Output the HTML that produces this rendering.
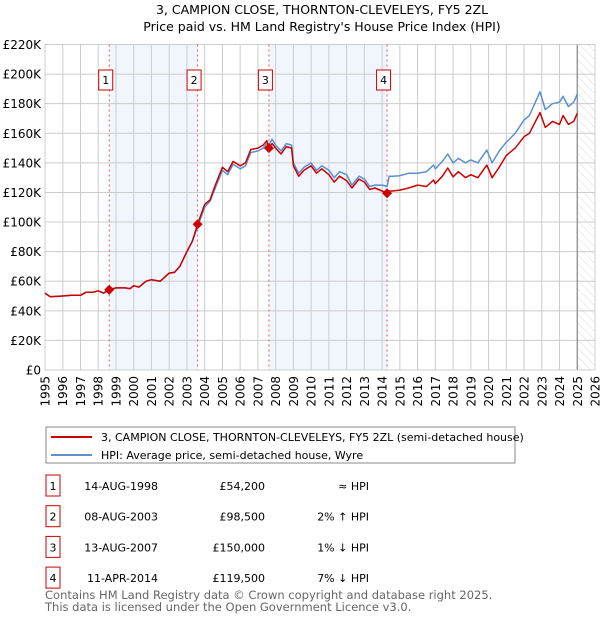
<!DOCTYPE html>
<html><head><meta charset="utf-8"><style>
body{margin:0;background:#fff;font-family:"DejaVu Sans","Liberation Sans",sans-serif;}
svg text{font-family:"DejaVu Sans","Liberation Sans",sans-serif;}
</style></head><body>
<svg id="c" width="600" height="620" xmlns="http://www.w3.org/2000/svg">
<defs><pattern id="hatch" width="6" height="6" patternUnits="userSpaceOnUse" patternTransform="rotate(-45)"><line x1="0" y1="0" x2="0" y2="6" stroke="#ccc" stroke-width="0.7"/></pattern></defs>
<text x="322" y="14" text-anchor="middle" font-size="12.5">3, CAMPION CLOSE, THORNTON-CLEVELEYS, FY5 2ZL</text>
<text x="322" y="31" text-anchor="middle" font-size="12.5">Price paid vs. HM Land Registry's House Price Index (HPI)</text>
<g id="plot"></g>
<rect x="46" y="427" width="469" height="36" fill="#fff" stroke="#888"/>
<line x1="51" y1="437" x2="92" y2="437" stroke="#cc0000" stroke-width="2"/>
<text x="101" y="441" font-size="11">3, CAMPION CLOSE, THORNTON-CLEVELEYS, FY5 2ZL (semi-detached house)</text>
<line x1="51" y1="455" x2="92" y2="455" stroke="#5b8fd0" stroke-width="2"/>
<text x="101" y="459" font-size="11">HPI: Average price, semi-detached house, Wyre</text>
<g id="table" font-size="11"></g>
<text x="45" y="599" font-size="11.5" fill="#666">Contains HM Land Registry data © Crown copyright and database right 2025.</text>
<text x="45" y="611" font-size="11.5" fill="#666">This data is licensed under the Open Government Licence v3.0.</text>
</svg>
<script>
const dates=[1995.0,1995.3,1996,1996.5,1997,1997.3,1997.7,1998,1998.3,1998.62,1999,1999.5,1999.8,2000,2000.3,2000.7,2001,2001.5,2002,2002.3,2002.6,2003,2003.3,2003.6,2004,2004.3,2004.6,2005,2005.3,2005.6,2006,2006.3,2006.6,2007,2007.3,2007.5,2007.62,2007.8,2008,2008.3,2008.6,2008.9,2009,2009.3,2009.6,2010,2010.3,2010.6,2011,2011.3,2011.6,2012,2012.3,2012.7,2013,2013.3,2013.6,2014,2014.28,2014.4,2014.6,2015,2015.5,2016,2016.5,2016.9,2017,2017.4,2017.7,2018,2018.3,2018.7,2019,2019.4,2019.9,2020.2,2020.6,2021,2021.5,2022,2022.3,2022.9,2023.2,2023.6,2024,2024.2,2024.5,2024.8,2025];
const priceVals=[52,49.5,50,50.5,50.5,52.5,52.5,53.5,52,54.2,55.5,55.5,55,57,56,60,61,60,65.5,66,70,80,87,98.5,112,115,125,137,134,141,138,140,149,150,152,155,150,153,150,146,151,150,138,131,135,138,133,136,132,127,131,128,123,129,127,122,123,121,119.5,121,121,121.6,123,125,124,128.4,126,131,136.5,130.6,134,130,132,130,138.5,130,137,145,150,157.6,160,174,164,168,166,172,166,168,173.6];
const hpiVals=[52,49.5,50,50.5,50.5,52.5,52.5,53.5,52,54,55.5,55.5,55,57,56,60,61,60,65.5,66,70,80,87,97,110,114,123,135,132,139,136,138,147,148,150,153,152,156,152,148,153,152,140,133,137,140,135,138,135,130,134,132,125,131,129,124,125,125,124,131,131,131.3,133,133,134,138.5,136,141,146,140,143,140,142,140,148.6,140,148,154,160,169,172,188,176,180,181,185,178,181,186.5];
const saleDates=[1998.62,2003.6,2007.62,2014.28];
const salePrices=[54.2,98.5,150,119.5];
const saleLabels=["1","2","3","4"];
const saleDateText=["14-AUG-1998","08-AUG-2003","13-AUG-2007","11-APR-2014"];
const salePriceText=["£54,200","£98,500","£150,000","£119,500"];
const saleHpiText=["≈ HPI","2% ↑ HPI","1% ↓ HPI","7% ↓ HPI"];
const yTicks=[0,20,40,60,80,100,120,140,160,180,200,220];
const yTickLabels=["£0","£20K","£40K","£60K","£80K","£100K","£120K","£140K","£160K","£180K","£200K","£220K"];
const xTicks=[1995,1996,1997,1998,1999,2000,2001,2002,2003,2004,2005,2006,2007,2008,2009,2010,2011,2012,2013,2014,2015,2016,2017,2018,2019,2020,2021,2022,2023,2024,2025,2026];

const L=45,R=595,T=44.5,B=370;
const X=y=>L+(y-1995)/(2026-1995)*(R-L);
const Y=v=>B-v/220*(B-T);
const NS="http://www.w3.org/2000/svg";
const g=document.getElementById('plot');
function mk(tag,attrs,parent){const e=document.createElementNS(NS,tag);for(const k in attrs)e.setAttribute(k,attrs[k]);(parent||g).appendChild(e);return e;}

for(let i=0;i<saleDates.length;i+=2){
  const r=mk('rect',{x:X(saleDates[i]),y:T,width:X(saleDates[i+1])-X(saleDates[i]),height:B-T,fill:'#eef2fc',opacity:0.8});
  
  
}
const hr=mk('rect',{x:X(2025.0),y:T,width:R-X(2025.0),height:B-T,fill:'url(#hatch)'});


yTicks.forEach((v,i)=>{
  const l=mk('line',{x1:L,x2:R,y1:Y(v),y2:Y(v),stroke:'#ccc','stroke-width':1});
  
  
  const t=mk('text',{x:L-4,y:Y(v)+4.5,'text-anchor':'end','font-size':12});
  t.textContent=yTickLabels[i];
  
  
});
xTicks.forEach(v=>{
  const l=mk('line',{x1:X(v),x2:X(v),y1:T,y2:B,stroke:'#ccc','stroke-width':1});
  
  
  const t=mk('text',{x:0,y:0,'text-anchor':'end','font-size':12,transform:`translate(${X(v)+4.5},${B+6}) rotate(-90)`});
  t.textContent=v;
  
  
});
const nl=mk('line',{x1:X(2025.0),x2:X(2025.0),y1:T,y2:B,stroke:'#888','stroke-width':1.2});


const fr=mk('rect',{x:L,y:T,width:R-L,height:B-T,fill:'none',stroke:'#ccc'});


saleDates.forEach((d,i)=>{
  const l=mk('line',{x1:X(d),x2:X(d),y1:T,y2:B,stroke:'#ee5555','stroke-width':1,'stroke-dasharray':'2,3'});
  
  
  const bx=X(d)-3.5;
  const r=mk('rect',{x:bx-7,y:70,width:14,height:20,fill:'#fff',stroke:'#cc0000'});
  
  
  const t=mk('text',{x:bx,y:84,'text-anchor':'middle','font-size':11});
  t.textContent=saleLabels[i];
  
  
});
function line(vals,color,name){
  const p=mk('path',{d:dates.map((d,i)=>(i?'L':'M')+X(d).toFixed(1)+','+Y(vals[i]).toFixed(1)).join(''),fill:'none',stroke:color,'stroke-width':1.5,'stroke-linejoin':'round'});
  
  
}
line(hpiVals,'#5b8fd0','hpi-line');
line(priceVals,'#cc0000','price-line');
saleDates.forEach((d,i)=>{
  const c=mk('path',{d:`M${X(d)},${Y(salePrices[i])-5}l5,5l-5,5l-5,-5z`,fill:'#cc0000'});
  
  
});
const tb=document.getElementById('table');
saleLabels.forEach((s,i)=>{
  const y=487+i*30.7;
  const r=mk('rect',{x:46,y:y-12,width:14,height:21,fill:'#fff',stroke:'#cc0000'},tb);
  
  
  const cells=[[53,'middle',s],[158,'end',saleDateText[i]],[265,'end',salePriceText[i]],[369,'end',saleHpiText[i]]];
  cells.forEach(([x,a,txt],j)=>{
    const t=mk('text',{x:x,y:y+3,'text-anchor':a},tb);
    t.textContent=txt;
    
    
  });
});
</script>
</body></html>
